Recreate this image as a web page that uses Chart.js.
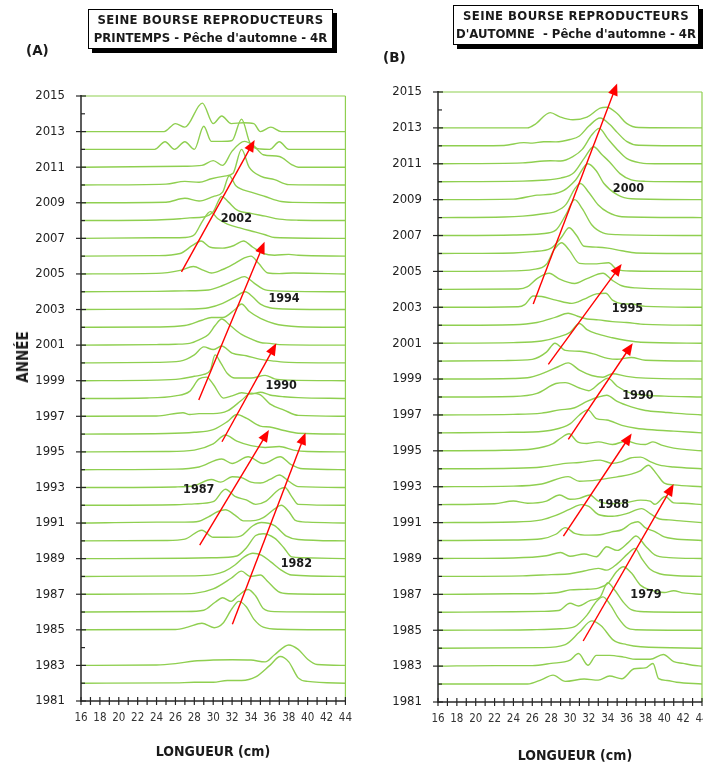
<!DOCTYPE html>
<html lang="fr">
<head>
<meta charset="utf-8">
<title>Seine bourse reproducteurs - longueurs</title>
<script src="https://cdn.jsdelivr.net/npm/chart.js@4.4.1/dist/chart.umd.min.js"></script>
<style>
  html, body { margin: 0; padding: 0; background: #fff; overflow: hidden; }
  #page { position: relative; width: 703px; height: 762px; overflow: hidden;
          font-family: 'DejaVu Sans Condensed', 'DejaVu Sans', sans-serif; color: #1a1a1a; }
  canvas { position: absolute; top: 0; }
  #grapheA { left: 0; }
  #grapheB { left: 360px; }
  .titre { position: absolute; box-sizing: border-box; border: 1px solid #000; background: #fff;
           box-shadow: 4px 4px 0 #000; font-weight: bold; font-size: 13px; line-height: 18px;
           text-align: center; white-space: nowrap; padding-top: 1px; }
  .titre span { letter-spacing: 0.4px; }
  .panneau { position: absolute; font-family: 'DejaVu Sans', sans-serif; font-weight: bold; font-size: 13.5px; }
  .axe-x { position: absolute; font-weight: bold; font-size: 14px; transform: translate(-50%, -50%); white-space: nowrap; }
  .axe-y { position: absolute; font-weight: bold; font-size: 15px; transform: translate(-50%, -50%) rotate(-90deg); }
</style>
</head>
<body>
<div id="page">
  <canvas id="grapheA" width="354" height="762"></canvas>
  <canvas id="grapheB" width="360" height="762"></canvas>

  <div class="titre" style="left:88px; top:9px; width:245px; height:40px;"><span>SEINE BOURSE REPRODUCTEURS</span><br>PRINTEMPS - Pêche d'automne - 4R</div>
  <div class="titre" style="left:453px; top:5px; width:246px; height:40px;"><span>SEINE BOURSE REPRODUCTEURS</span><br>D'AUTOMNE&nbsp; - Pêche d'automne - 4R</div>

  <div class="panneau" style="left:26px; top:42px;">(A)</div>
  <div class="panneau" style="left:383px; top:49px;">(B)</div>

  <div class="axe-y" style="left:23px; top:357px;">ANNÉE</div>
  <div class="axe-x" style="left:213px; top:751px;">LONGUEUR (cm)</div>
  <div class="axe-x" style="left:575px; top:755px;">LONGUEUR (cm)</div>
</div>

<script>
// Couleurs
const COULEUR_COURBE = '#8fcf50';
const COULEUR_AXE = '#262626';
const COULEUR_FLECHE = '#ff0000';

// Bornes des axes
const longueurMin = 16;
const longueurMax = 44;
const anneeMin = 1981;
const anneeMax = 2015;

// (A) Reproducteurs de printemps : années et profils [longueur, hauteur]
const anneesA = [1982, 1983, 1985, 1986, 1987, 1988, 1989, 1990, 1991, 1992, 1993, 1994, 1995, 1996, 1997,
                 1998, 1999, 2000, 2001, 2002, 2003, 2004, 2005, 2006, 2007, 2008, 2009, 2010, 2011, 2012, 2013];
const profilsA = [
  [[16,0],[26,0.02],[28,0.05],[30,0.05],[31.5,0.15],[33,0.15],[34.5,0.35],[36,1.0],[37.1,1.5],[38,1.2],[39,0.3],[40,0.1],[44,0]],
  [[16,0],[24,0.02],[26,0.1],[28,0.25],[30,0.3],[32,0.32],[34,0.3],[35.5,0.2],[36.5,0.6],[38,1.15],[39,0.9],[40,0.35],[41,0.05],[44,0]],
  [[16,0],[26,0.02],[27.3,0.15],[28.8,0.37],[30.1,0.12],[31,0.35],[32,1.2],[32.7,1.6],[33.5,1.3],[34.3,0.6],[35.3,0.15],[37,0.03],[44,0]],
  [[16,0],[27,0.03],[29,0.1],[30.2,0.55],[31,0.8],[31.9,0.6],[32.6,0.9],[33.7,1.27],[34.5,0.9],[35.3,0.2],[36.5,0.02],[44,0]],
  [[16,0],[26,0.02],[28,0.05],[30,0.3],[31.9,0.9],[33,1.3],[33.9,1.0],[35,1.08],[35.8,0.7],[36.9,0.15],[38,0.03],[44,0]],
  [[16,0],[28,0.03],[30,0.1],[31.2,0.28],[32.3,0.64],[33.3,1.1],[34.2,1.3],[35.1,1.2],[36.1,0.82],[37.2,0.36],[38.3,0.08],[44,0]],
  [[16,0],[27,0.02],[30,0.05],[32.5,0.15],[33.5,0.6],[34.5,1.3],[35.3,1.4],[36.5,1.15],[37.5,0.6],[38.3,0.1],[39.5,0.05],[44,0]],
  [[16,0],[25,0.02],[27,0.1],[28.8,0.6],[30,0.2],[31.5,0.2],[32.8,0.25],[34.2,0.85],[35.1,1.03],[36.5,0.85],[37.7,0.28],[39,0.08],[44,0]],
  [[16,0],[24,0.05],[27,0.05],[28.5,0.1],[29.5,0.35],[30.5,0.65],[31.3,0.75],[32.3,0.45],[33.2,0.12],[34.5,0.15],[35.3,0.3],[36.5,0.8],[37.2,1.0],[38,0.65],[38.7,0.15],[40,0.05],[44,0]],
  [[16,0],[26,0.03],[28,0.08],[30,0.2],[31.3,0.9],[32.3,0.5],[33.5,0.3],[34.5,0.05],[35.5,0.2],[37,0.9],[37.6,1.0],[38.3,0.5],[39,0.05],[44,0]],
  [[16,0],[26,0.03],[28,0.1],[29.8,0.45],[30.8,0.3],[32,0.6],[33,0.55],[34,0.3],[35,0.25],[36,0.45],[37,0.7],[38,0.35],[39,0.05],[44,0]],
  [[16,0],[26,0.03],[28.5,0.15],[30.9,0.6],[32,0.35],[33.7,0.73],[35.3,0.35],[37.1,0.73],[38.2,0.3],[39.5,0.05],[44,0]],
  [[16,0],[25,0.02],[28,0.1],[30,0.45],[31.3,0.95],[32.5,0.6],[34,0.35],[35.5,0.25],[37,0.3],[38.5,0.1],[40,0.02],[44,0]],
  [[16,0],[25,0.03],[28,0.1],[30,0.25],[31.5,0.7],[32.5,1.1],[33.5,0.9],[35,0.45],[36,0.4],[37.5,0.2],[39,0.05],[44,0]],
  [[16,0],[24,0.02],[26.8,0.2],[27.5,0.1],[28.5,0.15],[30,0.15],[31.5,0.3],[33,0.9],[34,1.3],[35,1.2],[36,0.7],[37.5,0.35],[39,0.05],[44,0]],
  [[16,0],[23,0.03],[26,0.15],[27.5,0.4],[28.5,1.1],[29.3,1.2],[30,0.8],[31.1,0.02],[32,0.15],[33,0.32],[34,0.25],[35,0.35],[36,0.2],[37.5,0.1],[39,0.05],[44,0]],
  [[16,0],[24,0.03],[26.5,0.1],[28,0.25],[29,0.35],[29.7,0.6],[30.2,1.45],[30.8,1.0],[31.5,0.4],[32.3,0.15],[34,0.15],[35.5,0.3],[36.5,0.1],[38,0.03],[44,0]],
  [[16,0],[24,0.03],[26.5,0.1],[28,0.45],[29,0.9],[30,0.75],[30.9,0.95],[32,0.55],[33.5,0.4],[35,0.2],[36.5,0.1],[38,0.03],[44,0]],
  [[16,0],[24,0.03],[26,0.05],[27.5,0.1],[28.5,0.3],[29.5,0.6],[30.2,1.1],[30.9,1.47],[31.8,1.1],[33,0.6],[34,0.35],[35,0.15],[36,0.1],[37,0.03],[44,0]],
  [[16,0],[24,0.02],[27,0.1],[28.8,0.4],[29.8,0.55],[31,0.55],[32.3,1.0],[33,1.31],[33.8,0.9],[35,0.5],[36.5,0.2],[37.5,0.1],[39,0.03],[44,0]],
  [[16,0],[25,0.02],[28,0.03],[29.5,0.1],[31,0.35],[32.3,0.7],[33.4,1.0],[34.2,0.7],[35,0.3],[36,0.1],[37.5,0.03],[44,0]],
  [[16,0],[24,0.02],[27,0.05],[29.5,0.1],[31,0.35],[32.3,0.65],[33.3,0.85],[34.3,0.5],[35.3,0.15],[36.5,0.05],[44,0]],
  [[16,0],[24,0.03],[26.5,0.2],[27.9,0.42],[29,0.2],[29.8,0.05],[31,0.25],[32.3,0.6],[33.3,0.9],[34,1.0],[34.8,0.6],[35.8,0.05],[37,0.02],[38.5,0.05],[44,0]],
  [[16,0],[24,0.03],[26.5,0.15],[27.8,0.6],[28.7,0.85],[29.7,0.5],[31,0.45],[32.2,0.6],[33.2,0.85],[34.2,0.5],[35.3,0.15],[36.5,0.05],[38,0.1],[39,0.05],[44,0]],
  [[16,0],[24,0.03],[27,0.05],[28,0.2],[28.9,1.0],[29.7,1.5],[30.5,1.1],[31.5,0.8],[33,0.56],[34.5,0.35],[35.5,0.2],[36.5,0.05],[44,0]],
  [[16,0],[24,0.03],[26.5,0.1],[27.5,0.15],[29,0.2],[30,0.5],[30.9,1.35],[31.6,1.05],[32.5,0.6],[34,0.4],[35.5,0.25],[37,0.08],[39,0.02],[44,0]],
  [[16,0],[25,0.03],[27,0.25],[28.5,0.1],[30,0.35],[31,0.6],[31.7,1.52],[32.4,0.95],[34,0.6],[35.5,0.35],[37.2,0.07],[38.5,0.02],[44,0]],
  [[16,0],[25,0.05],[27,0.2],[28.5,0.15],[29.8,0.35],[31.2,0.5],[32.1,0.66],[33,2.0],[33.8,1.0],[35,0.5],[36.5,0.3],[38,0.02],[44,0]],
  [[16,0],[27,0.05],[28.8,0.1],[30,0.37],[31,0.1],[32,0.9],[33.3,1.45],[34.3,1.2],[35.3,0.7],[37,0.6],[38.3,0.15],[39,0],[44,0]],
  [[16,0],[23.8,0],[24.9,0.43],[25.9,0],[27,0.43],[28,0],[29,1.3],[29.8,0.45],[30.9,0.45],[32,0.5],[33,1.7],[33.9,0.35],[35,0.02],[36,0],[37,0.43],[38,0],[44,0]],
  [[16,0],[24.8,0],[26,0.45],[27,0.25],[28.85,1.6],[30,0.45],[30.9,0.88],[31.9,0.45],[33.2,0.5],[34.3,0.45],[35,0],[36.1,0.25],[37.2,0],[44,0]]
];
// flèches de cohortes [longueur départ, année départ, longueur arrivée, année arrivée]
const flechesA = [[26.64,2005.12,34.39,2012.53],[28.47,1997.91,35.44,2006.81],[30.93,1995.57,36.68,2001.1],
                  [28.57,1989.76,35.9,1996.23],[32.03,1985.32,39.77,1996.07]];
const cohortesA = ['2002', '1994', '1990', '1987', '1982'];
const positionsCohortesA = [[32.45,2008.12],[37.5,2003.63],[37.2,1998.7],[28.47,1992.85],[38.8,1988.7]];

// (B) Reproducteurs d'automne
const anneesB = [1982, 1983, 1984, 1985, 1986, 1987, 1988, 1989, 1990, 1991, 1992, 1993, 1994, 1995, 1996, 1997,
                 1998, 1999, 2000, 2001, 2002, 2003, 2004, 2005, 2006, 2007, 2008, 2009, 2010, 2011, 2012, 2013];
const profilsB = [
  [[16,0],[25.5,0],[27,0.25],[28.2,0.5],[29.5,0.15],[31.5,0.28],[33,0.22],[34.2,0.45],[35.5,0.3],[36.8,0.85],[38,0.9],[38.8,1.15],[39.4,0.3],[40.3,0.2],[41.3,0.1],[44,0]],
  [[16,0],[22,0.03],[26,0.03],[28,0.15],[30,0.33],[30.9,0.7],[31.9,0.05],[32.8,0.6],[34.2,0.6],[35.7,0.5],[37,0.38],[38.5,0.38],[39.9,0.65],[41,0.25],[42,0.15],[43,0.05],[44,0]],
  [[16,0],[27,0.03],[29.5,0.2],[31,0.9],[32.3,1.52],[33.3,1.25],[34.6,0.45],[36,0.2],[37.5,0.08],[44,0]],
  [[16,0],[26,0.03],[29,0.08],[30.5,0.2],[31.8,0.84],[32.8,1.6],[33.5,1.86],[34.3,1.4],[35.1,0.7],[36,0.15],[37,0.03],[44,0]],
  [[16,0],[24,0.03],[27,0.05],[28.8,0.1],[30,0.5],[30.9,0.35],[32.1,0.65],[33.2,0.85],[34,1.65],[34.8,1.2],[35.6,0.6],[36.5,0.15],[38,0.03],[44,0]],
  [[16,0],[24,0.03],[27,0.05],[28.8,0.1],[30,0.25],[31.5,0.28],[33,0.35],[34,0.6],[35,1.3],[35.65,1.54],[36.5,1.2],[37.5,0.5],[38.5,0.25],[40,0.1],[41,0.2],[42,0.08],[44,0]],
  [[16,0],[25,0.03],[28,0.1],[30,0.15],[31.5,0.3],[33,0.45],[33.9,0.35],[35,0.7],[36.2,1.3],[36.9,1.56],[37.6,1.0],[38.5,0.4],[39.5,0.15],[41,0.05],[44,0]],
  [[16,0],[24,0.03],[27.5,0.15],[29,0.33],[30,0.12],[31.5,0.25],[32.8,0.1],[33.9,0.65],[35,0.45],[36.2,0.9],[37,1.25],[38,0.7],[39,0.2],[40.5,0.05],[44,0]],
  [[16,0],[24,0.03],[27,0.1],[28.5,0.35],[29.5,0.72],[30.5,0.4],[32,0.3],[33.5,0.35],[34.4,0.48],[35.5,0.6],[36.5,0.95],[37.2,1.05],[38,0.7],[39,0.5],[40,0.2],[41,0.1],[44,0]],
  [[16,0],[24,0.03],[27,0.15],[28.5,0.4],[30,0.75],[31.2,1.0],[32,0.9],[33,0.45],[34.5,0.35],[36,0.5],[37.6,0.78],[38.5,0.5],[39.5,0.2],[40.5,0.15],[42,0.08],[44,0]],
  [[16,0],[22,0.05],[24,0.2],[25.5,0.08],[27.5,0.2],[28.9,0.54],[30,0.3],[31,0.35],[32.1,0.54],[33,0.2],[34.5,0.05],[36,0.12],[37.5,0.25],[38.5,0.2],[39,0.02],[40.1,0.45],[41,0.1],[42,0.08],[44,0]],
  [[16,0],[24,0.03],[27,0.15],[29.8,0.56],[31,0.3],[33,0.38],[35,0.55],[36.5,0.7],[37.5,0.9],[38.3,1.2],[39.2,0.7],[40,0.2],[41,0.1],[44,0]],
  [[16,0],[24,0.03],[27,0.1],[29.5,0.3],[31,0.35],[33.2,0.48],[34.5,0.3],[35.5,0.4],[36.4,0.6],[37.5,0.65],[38.5,0.4],[39.5,0.2],[41,0.1],[44,0]],
  [[16,0],[23,0.03],[26,0.1],[28.2,0.4],[29,0.7],[29.9,0.95],[30.8,0.5],[31.8,0.41],[33,0.5],[34.5,0.35],[36,0.55],[37,0.4],[38,0.35],[38.8,0.5],[39.8,0.3],[41,0.15],[44,0]],
  [[16,0],[23,0.03],[26,0.05],[28,0.15],[30,0.5],[31,1.0],[31.9,1.28],[32.8,0.8],[33.9,0.72],[35.5,0.42],[37,0.26],[39,0.16],[41,0.1],[44,0]],
  [[16,0],[24,0.03],[27,0.1],[28.9,0.28],[30.5,0.4],[31.8,0.75],[33,1.0],[33.9,1.1],[35,0.75],[36.5,0.45],[38,0.25],[40,0.15],[41,0.1],[44,0]],
  [[16,0],[24,0.03],[26.5,0.2],[28.5,0.75],[29.5,0.8],[31,0.5],[32,0.35],[33.2,0.8],[34,1.05],[35,0.6],[36.5,0.2],[38,0.1],[40,0.05],[44,0]],
  [[16,0],[24,0.03],[25.8,0.1],[27.5,0.4],[28.8,0.7],[29.8,0.9],[31,0.5],[32.3,0.2],[33.5,0.1],[34.5,0.3],[36,0.15],[38,0.05],[44,0]],
  [[16,0],[23,0.03],[26,0.1],[27.5,0.5],[28.4,1.0],[29.5,0.6],[31,0.55],[32.5,0.4],[34,0.15],[35,0.1],[36.5,0.2],[38,0.05],[44,0]],
  [[16,0],[24,0.03],[27,0.12],[28.8,0.35],[30,0.6],[31,1.1],[31.8,0.75],[33,0.5],[34.5,0.3],[36,0.15],[37.5,0.05],[44,0]],
  [[16,0],[24,0.03],[26.5,0.15],[28.5,0.45],[29.8,0.67],[30.8,0.5],[31.8,0.35],[33,0.3],[34.5,0.2],[36,0.15],[38,0.05],[44,0]],
  [[16,0],[24.5,0.03],[25.2,0.15],[26.1,0.63],[27,0.6],[28.5,0.4],[30.2,0.22],[31.5,0.45],[32.8,0.75],[33.8,0.78],[34.5,0.4],[35.5,0.2],[36.5,0.18],[38,0.05],[44,0]],
  [[16,0],[24.5,0.02],[25.5,0.15],[26.5,0.6],[27.8,0.9],[28.8,0.6],[30.5,0.33],[31.8,0.6],[33.5,0.9],[34.5,0.5],[35.5,0.2],[37,0.08],[44,0]],
  [[16,0],[24,0.03],[26,0.1],[27.5,0.4],[28.3,1.2],[29.1,1.6],[29.9,1.2],[31,0.45],[32.5,0.42],[34.1,0.48],[35,0.1],[36.5,0.02],[44,0]],
  [[16,0],[24,0.03],[26,0.1],[28,0.3],[29.1,0.9],[29.9,1.43],[30.7,1.0],[31.5,0.4],[33,0.35],[34,0.3],[35.5,0.15],[37,0.03],[44,0]],
  [[16,0],[24,0.03],[27,0.1],[28.5,0.3],[29.6,1.2],[30.5,2.0],[31.3,1.5],[32.3,0.6],[33.5,0.15],[35,0.05],[44,0]],
  [[16,0],[23,0.03],[25,0.08],[27,0.2],[28.5,0.35],[29.6,0.75],[30.5,1.6],[31.1,1.9],[32,1.4],[33,0.7],[34,0.3],[35.5,0.05],[44,0]],
  [[16,0],[24,0.03],[26.5,0.25],[28,0.3],[29.3,0.5],[30.6,1.1],[31.9,2.0],[32.8,1.6],[33.6,0.9],[35,0.28],[36.5,0.05],[44,0]],
  [[16,0],[25,0.03],[27,0.08],[29,0.2],[30.4,0.5],[31.5,1.3],[32.5,1.95],[33.4,1.5],[34.2,1.1],[35.3,0.45],[36.5,0.1],[38,0.02],[44,0]],
  [[16,0],[25,0.05],[27.9,0.17],[29,0.15],[30.3,0.4],[31.3,0.8],[32.3,1.6],[33.1,1.97],[34,1.4],[35,0.8],[36,0.3],[37.5,0.05],[39,0],[44,0]],
  [[16,0],[23,0.02],[25.1,0.18],[26,0.15],[27.2,0.23],[28.5,0.22],[30,0.35],[31,0.55],[32,1.1],[33.2,1.55],[34.2,1.2],[35,0.75],[36,0.25],[37.3,0.03],[44,0]],
  [[16,0],[25.5,0],[26.3,0.2],[27.9,0.85],[29,0.6],[30.3,0.45],[31.8,0.6],[33.2,1.1],[33.9,1.15],[35,0.8],[36,0.25],[37.3,0.02],[44,0]]
];
const flechesB = [[26.1,2003.18,35.0,2015.48],[27.7,1999.82,35.48,2005.41],[29.82,1995.64,36.65,2001.0],
                  [29.3,1990.25,36.54,1995.97],[31.4,1984.4,41.0,1993.15]];
const cohortesB = ['2000', '1995', '1990', '1988', '1979'];
const positionsCohortesB = [[36.2,2009.63],[36.1,2002.94],[37.2,1998.06],[34.6,1991.98],[38.06,1987.0]];

Chart.defaults.font.family = "'DejaVu Sans Condensed', 'DejaVu Sans', sans-serif";

// Cadre, axes, flèches et étiquettes des cohortes
function pluginDecor(fleches, textes, positions) {
  return {
    id: 'decor',
    afterDraw(chart) {
      const { ctx, chartArea: a, scales: { x, y } } = chart;
      const trait = (x1, y1, x2, y2) => { ctx.beginPath(); ctx.moveTo(x1, y1); ctx.lineTo(x2, y2); ctx.stroke(); };
      ctx.save();

      // cadre vert en haut et à droite
      ctx.strokeStyle = COULEUR_COURBE;
      ctx.lineWidth = 1.2;
      trait(a.left, a.top, a.right, a.top);
      trait(a.right, a.top, a.right, a.bottom);

      // axes noirs avec graduations
      ctx.strokeStyle = COULEUR_AXE;
      ctx.lineWidth = 1.5;
      trait(a.left, a.top - 1, a.left, a.bottom + 1);
      trait(a.left, a.bottom, a.right, a.bottom);
      ctx.lineWidth = 1.2;
      y.ticks.forEach(t => {
        const py = y.getPixelForValue(t.value);
        if (Math.round(t.value) % 2) trait(a.left - 5, py, a.left + 5, py);
        else trait(a.left, py, a.left + 4, py);
      });
      x.ticks.forEach(t => {
        const px = x.getPixelForValue(t.value);
        trait(px, a.bottom - 4, px, a.bottom + 4);
      });

      // flèches rouges
      ctx.strokeStyle = COULEUR_FLECHE;
      ctx.fillStyle = COULEUR_FLECHE;
      ctx.lineWidth = 1.4;
      fleches.forEach(([l1, a1, l2, a2]) => {
        const x1 = x.getPixelForValue(l1), y1 = y.getPixelForValue(a1);
        const x2 = x.getPixelForValue(l2), y2 = y.getPixelForValue(a2);
        const ang = Math.atan2(y2 - y1, x2 - x1);
        const c = Math.cos(ang), s = Math.sin(ang);
        const bx = x2 - 12 * c, by = y2 - 12 * s;
        trait(x1, y1, bx + 2 * c, by + 2 * s);
        ctx.beginPath();
        ctx.moveTo(x2, y2);
        ctx.lineTo(bx - 5 * s, by + 5 * c);
        ctx.lineTo(bx + 5 * s, by - 5 * c);
        ctx.closePath();
        ctx.fill();
      });

      // années des cohortes
      ctx.fillStyle = '#1a1a1a';
      ctx.font = "bold 12.5px 'DejaVu Sans Condensed', 'DejaVu Sans', sans-serif";
      ctx.textAlign = 'center';
      ctx.textBaseline = 'middle';
      textes.forEach((txt, i) => {
        ctx.fillText(txt, x.getPixelForValue(positions[i][0]), y.getPixelForValue(positions[i][1]));
      });
      ctx.restore();
    }
  };
}

function creerGraphe(idCanvas, annees, profils, fleches, textes, positions, geo) {
  const datasets = annees.map((an, i) => ({
    label: String(an),
    data: profils[i].map(([l, h]) => ({ x: l, y: an + h })),
    borderColor: COULEUR_COURBE,
    borderWidth: 1.4,
    pointRadius: 0,
    fill: false,
    cubicInterpolationMode: 'monotone'
  }));

  return new Chart(document.getElementById(idCanvas), {
    type: 'line',
    data: { datasets },
    options: {
      responsive: false,
      devicePixelRatio: 1,
      animation: false,
      events: [],
      layout: { padding: { top: geo.haut, right: geo.droite, left: 0, bottom: 0 } },
      plugins: { legend: { display: false }, tooltip: { enabled: false } },
      scales: {
        x: {
          type: 'linear', min: longueurMin, max: longueurMax,
          grid: { display: false }, border: { display: false },
          ticks: {
            stepSize: 1, autoSkip: false, maxRotation: 0, padding: 2,
            color: '#333', font: { size: 11.5 },
            callback: v => (Math.round(v) % 2 === 0 ? String(Math.round(v)) : '')
          },
          afterFit: s => { s.height = geo.hauteurX; }
        },
        y: {
          type: 'linear', min: anneeMin, max: anneeMax,
          grid: { display: false }, border: { display: false },
          ticks: {
            stepSize: 1, autoSkip: false, padding: 8,
            color: '#222', font: { size: 13 },
            callback: v => (Math.round(v) % 2 === 1 ? String(Math.round(v)) : '')
          },
          afterFit: s => { s.width = geo.largeurY; }
        }
      }
    },
    plugins: [pluginDecor(fleches, textes, positions)]
  });
}

creerGraphe('grapheA', anneesA, profilsA, flechesA, cohortesA, positionsCohortesA,
            { haut: 96, droite: 8, largeurY: 81, hauteurX: 61 });
creerGraphe('grapheB', anneesB, profilsB, flechesB, cohortesB, positionsCohortesB,
            { haut: 92, droite: 18, largeurY: 78, hauteurX: 60 });
</script>
</body>
</html>
